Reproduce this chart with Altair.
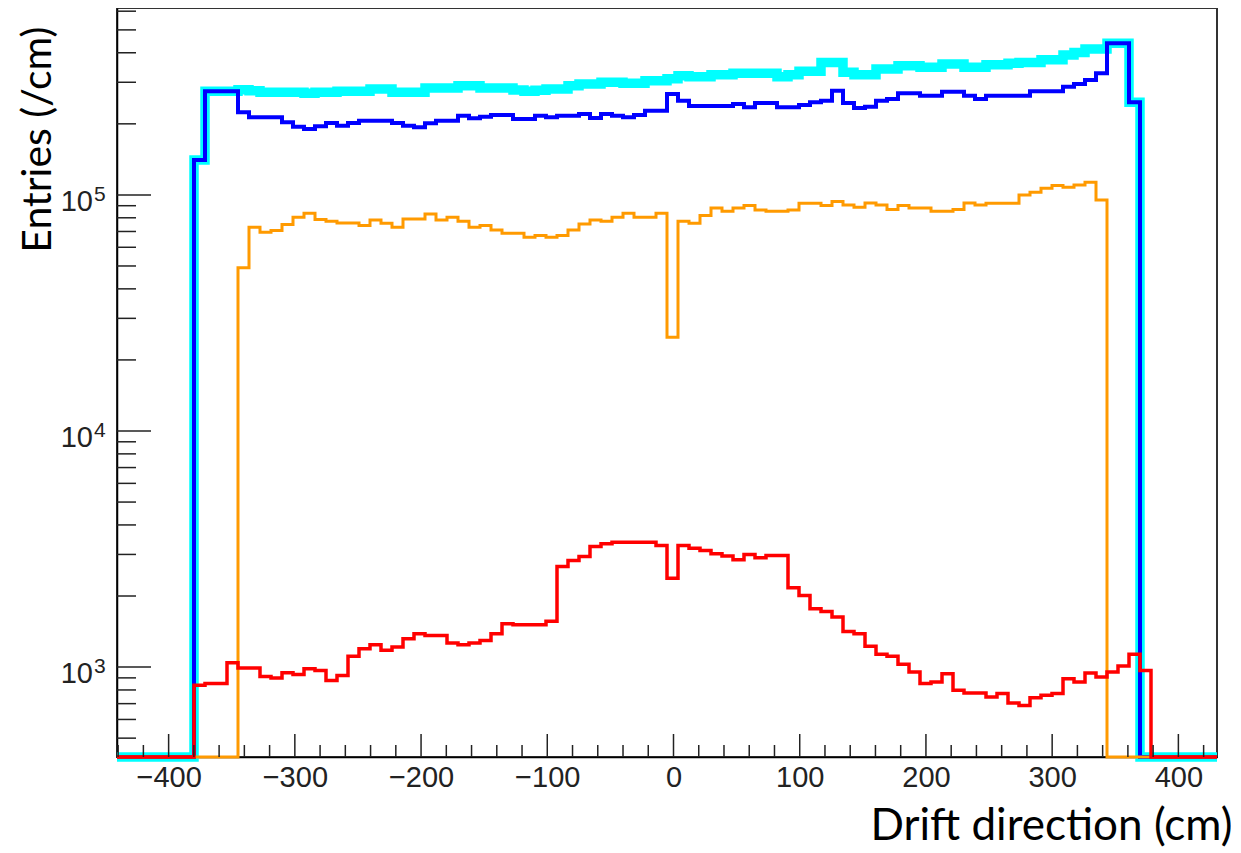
import altair as alt
import pandas as pd

# ---- histogram binning (100 bins across the frame) ----
X_MIN = -440.9
X_MAX = 430.6
N_BINS = 100
Y_FLOOR = 416
Y_TOP = 619000

# ---- bin contents (Entries / cm) ----
CYAN_FIRST_BIN = 7
cyan = [140700, 274500, 274500, 274500, 279100, 276400, 271900, 271900, 271900, 271900,
        269200, 271900, 271900, 274500, 274500, 274500, 281100, 281100, 271900, 271900,
        271900, 283800, 283800, 283800, 290200, 290200, 283800, 283800, 283800, 278300,
        274500, 277800, 281100, 281100, 290200, 295100, 295100, 299700, 299700, 296800,
        296800, 304700, 304700, 310700, 320000, 316900, 316900, 323100, 323100, 327200,
        327200, 327200, 327200, 316900, 323100, 333700, 333700, 364200, 364200, 330400,
        323100, 323100, 341600, 341600, 352700, 352700, 346900, 346900, 358600, 358600,
        346900, 346900, 356200, 356200, 361400, 364200, 364200, 373900, 373900, 391400,
        401500, 415000, 415000, 438400, 438400, 246600]

BLUE_FIRST_BIN = 7
blue = [140700, 274500, 274500, 274500, 223700, 213100, 213100, 213100, 202900, 194600,
        190300, 195200, 201700, 196500, 201700, 206300, 206300, 206300, 201700, 196500,
        193300, 201000, 206300, 206300, 216600, 211000, 214500, 218100, 218100, 209800,
        209800, 216600, 213100, 216600, 216600, 220200, 211800, 220200, 216600, 213100,
        218100, 227500, 227500, 267700, 250700, 238100, 238100, 238100, 238100, 242800,
        234900, 245200, 245200, 234900, 234900, 240500, 246600, 250700, 276400, 245200,
        233500, 236500, 250700, 255000, 269200, 269200, 263300, 263300, 273700, 273700,
        263300, 255000, 263300, 263300, 263300, 263300, 274500, 274500, 274500, 287400,
        295100, 306800, 327200, 438400, 438400, 246600]

ORANGE_FIRST_BIN = 11
orange = [49090, 72930, 69470, 70630, 74860, 80400, 83600, 78600, 77310, 76120,
          76120, 74130, 78380, 75820, 72930, 79140, 79140, 83100, 78380, 80400,
          77310, 72930, 74130, 71100, 68790, 68790, 66140, 67250, 66140, 67250,
          71100, 75370, 78380, 77310, 80400, 83600, 80400, 80400, 83600, 24940,
          77310, 75820, 81750, 88110, 85240, 88110, 90100, 86400, 85240, 85240,
          86400, 92140, 92140, 90100, 93680, 90720, 88630, 92500, 90720, 86660,
          90100, 88110, 88110, 85240, 85240, 86660, 92500, 90720, 92140, 92140,
          92140, 100000, 102600, 106600, 109500, 107700, 110200, 113100, 95240]

RED_FIRST_BIN = 7
red = [837, 851, 851, 1044, 990, 990, 913, 898, 947, 931,
       984, 968, 878, 922, 1110, 1197, 1244, 1177, 1215, 1319,
       1385, 1362, 1362, 1264, 1244, 1264, 1297, 1385, 1527, 1512,
       1512, 1512, 1562, 2669, 2830, 2942, 3243, 3330, 3382, 3382,
       3382, 3382, 3275, 2381, 3275, 3190, 3120, 3020, 2951, 2849,
       3000, 2905, 2971, 2971, 2169, 2012, 1767, 1721, 1628, 1416,
       1385, 1224, 1132, 1110, 1027, 952, 851, 864, 938, 797,
       776, 776, 746, 772, 704, 688, 742, 759, 772, 893,
       864, 943, 907, 952, 1010, 1132, 968]

# ---- axis tick values and labels ----
X_LABEL_TICKS = [-400, -300, -200, -100, 0, 100, 200, 300, 400]
X_MINOR_TICKS = [-440, -420, -380, -360, -340, -320, -280, -260, -240, -220,
                 -180, -160, -140, -120, -80, -60, -40, -20, 20, 40, 60, 80,
                 120, 140, 160, 180, 220, 240, 260, 280, 320, 340, 360, 380, 420]
Y_DECADE_EXPONENTS = ["3", "4", "5"]
Y_DECADE_BASE = "10"
Y_MINOR_TICKS = [500, 600, 700, 800, 900,
                 2000, 3000, 4000, 5000, 6000, 7000, 8000, 9000,
                 20000, 30000, 40000, 50000, 60000, 70000, 80000, 90000,
                 200000, 300000, 400000, 500000, 600000]

X_TITLE = "Drift direction (cm)"
Y_TITLE = "Entries (/cm)"

W, H = 1100, 749

bin_w = (X_MAX - X_MIN) / N_BINS
edges = [X_MIN + k * bin_w for k in range(N_BINS + 1)]


def hist_frame(first_bin, values):
    contents = [Y_FLOOR] * N_BINS
    for i, v in enumerate(values):
        contents[first_bin + i] = v
    return pd.DataFrame({"x": edges, "y": contents + [contents[-1]]})


x_scale = alt.Scale(domain=[X_MIN, X_MAX], nice=False, zero=False)
y_scale = alt.Scale(type="log", domain=[Y_FLOOR, Y_TOP], nice=False)

x_axis = alt.Axis(values=X_LABEL_TICKS, ticks=False, grid=False, domain=True,
                  domainColor="#000000", domainWidth=1.5,
                  labelFont="Liberation Sans", labelFontSize=29, labelColor="#222222",
                  labelPadding=6, labelFlush=False, labelOverlap=False,
                  title=X_TITLE, titleFont="Lato", titleFontSize=44,
                  titleFontWeight="normal", titleColor="#000000",
                  titleX=1115, titleY=82, titleAlign="right",
                  titleBaseline="alphabetic", titleAngle=0)
y_axis = alt.Axis(labels=False, ticks=False, grid=False, domain=True,
                  domainColor="#000000", domainWidth=1.5,
                  title=Y_TITLE, titleFont="Lato", titleFontSize=41,
                  titleFontWeight="normal", titleColor="#000000",
                  titleX=-67, titleY=18, titleAlign="right",
                  titleBaseline="alphabetic", titleAngle=270)

X = alt.X("x:Q", scale=x_scale, axis=x_axis)
Y = alt.Y("y:Q", scale=y_scale, axis=y_axis)


def hist_layer(first_bin, values, color, width):
    return alt.Chart(hist_frame(first_bin, values)).mark_line(
        interpolate="step-after", color=color, strokeWidth=width,
        strokeCap="butt", strokeJoin="miter"
    ).encode(x=X, y=Y)


cyan_l = hist_layer(CYAN_FIRST_BIN, cyan, "#00FFFF", 9.5)
blue_l = hist_layer(BLUE_FIRST_BIN, blue, "#0000FF", 4)
orange_l = hist_layer(ORANGE_FIRST_BIN, orange, "#FF9A00", 3)
red_l = hist_layer(RED_FIRST_BIN, red, "#FF0000", 3.5)

# inward ticks (ROOT style)
x_major = alt.Chart(pd.DataFrame({"x": X_LABEL_TICKS})).mark_rule(
    color="#222222", strokeWidth=1.5).encode(x=X, y=alt.value(H - 23), y2=alt.value(H))
x_minor = alt.Chart(pd.DataFrame({"x": X_MINOR_TICKS})).mark_rule(
    color="#222222", strokeWidth=1.5).encode(x=X, y=alt.value(H - 12), y2=alt.value(H))

decades = pd.DataFrame({
    "y": [10 ** int(e) for e in Y_DECADE_EXPONENTS],
    "base": [Y_DECADE_BASE] * len(Y_DECADE_EXPONENTS),
    "exp": Y_DECADE_EXPONENTS,
})
y_major = alt.Chart(decades).mark_rule(color="#222222", strokeWidth=1.5).encode(
    y=Y, x=alt.value(0), x2=alt.value(34))
y_minor = alt.Chart(pd.DataFrame({"y": Y_MINOR_TICKS})).mark_rule(
    color="#222222", strokeWidth=1.5).encode(y=Y, x=alt.value(0), x2=alt.value(19))

y_lab_base = alt.Chart(decades).mark_text(
    font="Liberation Sans", fontSize=29, color="#222222", align="right",
    baseline="alphabetic", dy=16).encode(y=Y, x=alt.value(-24), text="base:N")
y_lab_exp = alt.Chart(decades).mark_text(
    font="Liberation Sans", fontSize=21, color="#222222", align="left",
    baseline="alphabetic", dy=6).encode(y=Y, x=alt.value(-23), text="exp:N")

chart = alt.layer(
    cyan_l, blue_l, orange_l, red_l,
    x_major, x_minor, y_major, y_minor, y_lab_base, y_lab_exp
).properties(
    width=W, height=H,
    autosize=alt.AutoSizeParams(type="none"),
    padding={"left": 109, "top": 0, "right": 14, "bottom": 94},
).configure_view(
    stroke="#333333", strokeWidth=2
).configure_axis(grid=False)

chart.save("out.html", embed_options={"renderer": "svg", "actions": False})
